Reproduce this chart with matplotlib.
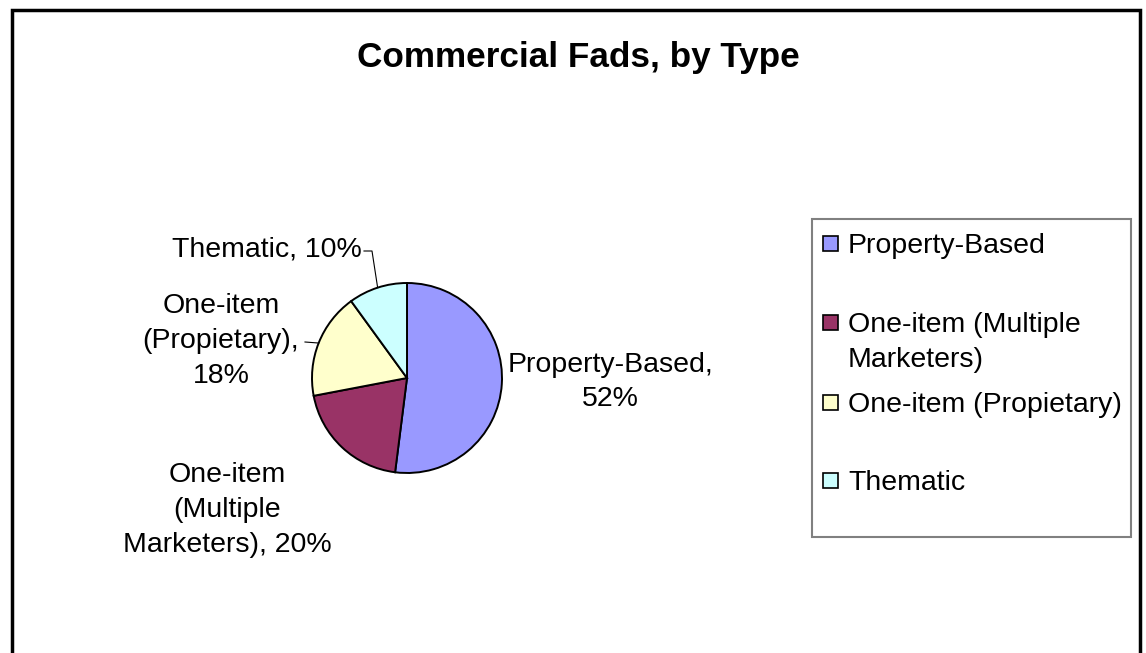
import matplotlib.pyplot as plt
from matplotlib.patches import Rectangle
import numpy as np

plt.rcParams['font.family'] = ['Liberation Sans', 'DejaVu Sans']

# data
categories = ['Property-Based', 'One-item (Multiple Marketers)', 'One-item (Propietary)', 'Thematic']
shares = [52, 20, 18, 10]
colors = ['#9999FF', '#993366', '#FFFFCC', '#CCFFFF']
pie_labels = ['Property-Based,\n52%', 'One-item\n(Multiple\nMarketers), 20%',
              'One-item\n(Propietary),\n18%', 'Thematic, 10%']
legend_labels = ['Property-Based', 'One-item (Multiple\nMarketers)', 'One-item (Propietary)', 'Thematic']

W, H = 1146, 653
fig = plt.figure(figsize=(W / 100, H / 100), dpi=100)
ax = fig.add_axes([0, 0, 1, 1])

# pie in pixel coordinates (y measured from the bottom)
cx, cy, r = 407, H - 378, 95
wedges, _ = ax.pie(shares, colors=colors, startangle=90, counterclock=False,
                   center=(cx, cy), radius=r, frame=True,
                   wedgeprops=dict(edgecolor='black', linewidth=1.4))
ax.set_xlim(0, W)
ax.set_ylim(0, H)
ax.axis('off')

fs = 20.5
lsp = 1.45

# data labels: text centre and alignment
label_pos = [(610, 382, 'center'), (227, 510, 'center'), (221, 341, 'center'), (362, 250, 'right')]
for txt, (x, y, ha) in zip(pie_labels, label_pos):
    ax.text(x, H - y, txt, fontsize=fs, ha=ha, va='center', multialignment='center',
            linespacing=lsp)

# leader lines for the two small labels
def edge_point(w):
    th = np.deg2rad((w.theta1 + w.theta2) / 2)
    return cx + r * np.cos(th), cy + r * np.sin(th)

ex, ey = edge_point(wedges[3])
ax.plot([364, 372, ex], [H - 251, H - 251, ey], color='black', lw=0.8)
ex, ey = edge_point(wedges[2])
ax.plot([305, ex], [H - 342, ey], color='black', lw=0.8)

# title
ax.text(578, H - 57, 'Commercial Fads, by Type', fontsize=25.3, fontweight='bold',
        ha='center', va='center')

# legend drawn by hand (Excel spacing)
ax.add_patch(Rectangle((812, H - 537), 319, 318, facecolor='white', edgecolor='#808080', lw=1.5))
entry_y = [243, 322, 402, 480]
for lab, col, y in zip(legend_labels, colors, entry_y):
    ax.add_patch(Rectangle((823, H - y - 7.5), 15, 15, facecolor=col, edgecolor='black', lw=1.2))
    ax.text(848, H - y + 10, lab, fontsize=fs, ha='left', va='top', linespacing=lsp)

# outer chart border
ax.add_patch(Rectangle((12, -20), 1128, H - 10 + 20, facecolor='none', edgecolor='black', lw=2.5))

fig.savefig('out.png', dpi=100)
